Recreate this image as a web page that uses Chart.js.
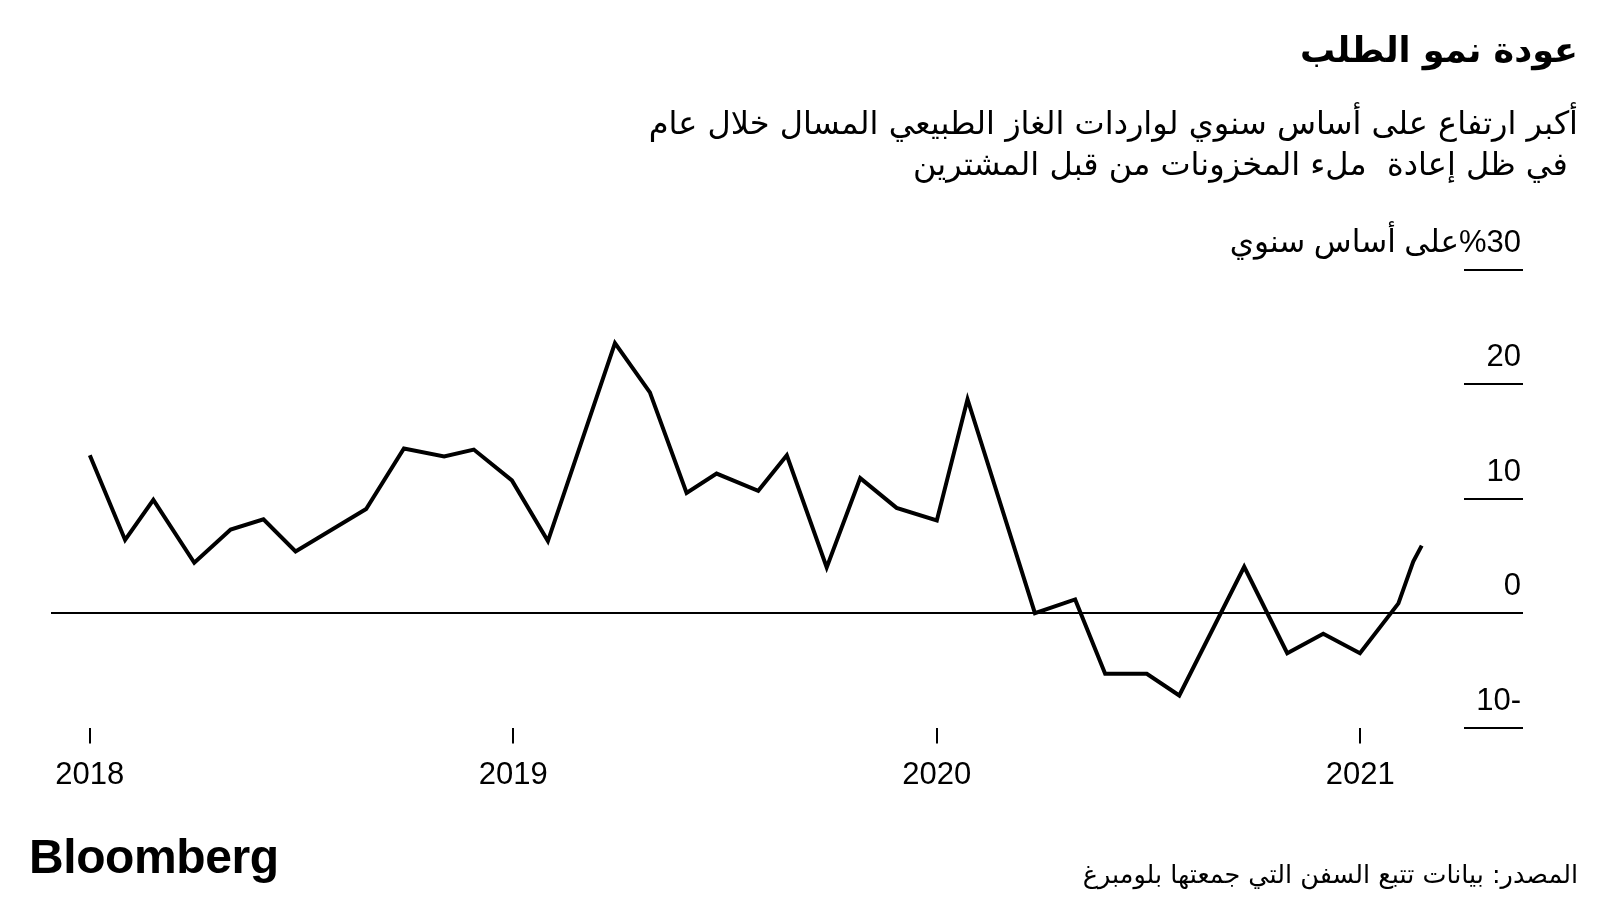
<!DOCTYPE html>
<html lang="ar">
<head>
<meta charset="utf-8">
<title>عودة نمو الطلب</title>
<script src="https://cdn.jsdelivr.net/npm/chart.js@4.4.1/dist/chart.umd.min.js"></script>
<style>
  body { margin: 0; background: #fff; }
  #wrap { position: relative; width: 1600px; height: 900px; overflow: hidden; }
  #lngChart { position: absolute; left: 0; top: 0; direction: rtl; }
  .txt { position: absolute; color: #000; white-space: nowrap; font-family: "DejaVu Sans", sans-serif; }
  #title { right: 22px; top: 25px; font-size: 35px; font-weight: bold; line-height: 50px; }
  #subtitle { right: 22px; top: 103px; font-size: 32px; line-height: 41px; text-align: right; }
  #source { right: 22px; top: 858px; font-size: 25.5px; line-height: 32px; }
  #logo { left: 29px; top: 829px; font-family: "Liberation Sans", Arial, sans-serif; font-weight: bold;
          font-size: 48px; line-height: 56px; letter-spacing: -0.4px; direction: ltr; }
</style>
</head>
<body>
<div id="wrap">
  <canvas id="lngChart" width="1600" height="900"></canvas>
  <div class="txt" id="title" dir="rtl">عودة نمو الطلب</div>
  <div class="txt" id="subtitle" dir="rtl">أكبر ارتفاع على أساس سنوي لواردات الغاز الطبيعي المسال خلال عام<br>&nbsp;في ظل إعادة&nbsp; ملء المخزونات من قبل المشترين</div>
  <div class="txt" id="logo">Bloomberg</div>
  <div class="txt" id="source" dir="rtl">المصدر: بيانات تتبع السفن التي جمعتها بلومبرغ</div>
</div>
<script>
// months since Jan 2018 and year-on-year change, %
const monthPos = [0, 1.0, 1.8, 2.96, 3.99, 4.92, 5.83, 7.83, 8.9, 10.04, 10.88, 11.96,
  12.98, 14.88, 15.87, 16.91, 17.76, 18.94, 19.75, 20.88, 21.83, 22.86, 24.0, 24.87,
  26.78, 27.92, 28.77, 29.95, 30.87, 32.71, 33.93, 34.95, 35.99, 37.08, 37.5, 37.74];
const yoyChange = [13.8, 6.4, 9.9, 4.4, 7.3, 8.2, 5.4, 9.1, 14.4, 13.7, 14.3, 11.6,
  6.3, 23.6, 19.3, 10.5, 12.2, 10.7, 13.8, 4.0, 11.8, 9.2, 8.1, 18.7,
  0.0, 1.2, -5.3, -5.3, -7.2, 4.05, -3.5, -1.8, -3.5, 0.85, 4.5, 5.9];

const yearTicks = [0, 12, 24, 36];
const yearLabels = ['2018', '2019', '2020', '2021'];
const yTicks = [-10, 0, 10, 20, 30];
const yTickLabels = ['-10', '0', '10', '20', '%30على أساس سنوي'];

const FONT = '"Liberation Sans", "DejaVu Sans", sans-serif';

// short grid lines on the right, full zero line, and y labels above each line
const gridPlugin = {
  id: 'rightGrid',
  beforeDatasetsDraw(chart) {
    const { ctx, chartArea, scales } = chart;
    ctx.save();
    ctx.strokeStyle = '#000';
    ctx.lineWidth = 2;
    ctx.fillStyle = '#000';
    ctx.font = '31px ' + FONT;
    ctx.textAlign = 'right';
    ctx.textBaseline = 'alphabetic';
    yTicks.forEach((v, i) => {
      const y = Math.round(scales.y.getPixelForValue(v));
      const x0 = v === 0 ? chartArea.left : chartArea.right - 59;
      ctx.beginPath();
      ctx.moveTo(x0, y);
      ctx.lineTo(chartArea.right, y);
      ctx.stroke();
      ctx.fillText(yTickLabels[i], chartArea.right - 2, y - 18);
    });
    ctx.restore();
  }
};

const points = monthPos.map((m, i) => ({ x: m, y: yoyChange[i] }));

new Chart(document.getElementById('lngChart').getContext('2d'), {
  type: 'line',
  data: {
    datasets: [{
      data: points,
      borderColor: '#000',
      borderWidth: 4,
      borderJoinStyle: 'miter',
      pointRadius: 0,
      tension: 0,
      fill: false
    }]
  },
  options: {
    responsive: false,
    animation: false,
    devicePixelRatio: 1,
    layout: { padding: { left: 51, right: 77, top: 270, bottom: 0 } },
    plugins: { legend: { display: false }, tooltip: { enabled: false } },
    scales: {
      x: {
        type: 'linear',
        min: -1.1,
        max: 40.61,
        afterBuildTicks: scale => { scale.ticks = yearTicks.map(v => ({ value: v })); },
        afterFit: scale => { scale.height = 172.5; },
        border: { display: false },
        grid: { drawOnChartArea: false, drawTicks: true, tickLength: 16, color: '#000', lineWidth: 2 },
        ticks: {
          autoSkip: false,
          maxRotation: 0,
          padding: 13,
          color: '#000',
          font: { family: FONT, size: 31 },
          callback: value => yearLabels[yearTicks.indexOf(value)]
        }
      },
      y: {
        display: false,
        min: -10,
        max: 30
      }
    }
  },
  plugins: [gridPlugin]
});
</script>
</body>
</html>
